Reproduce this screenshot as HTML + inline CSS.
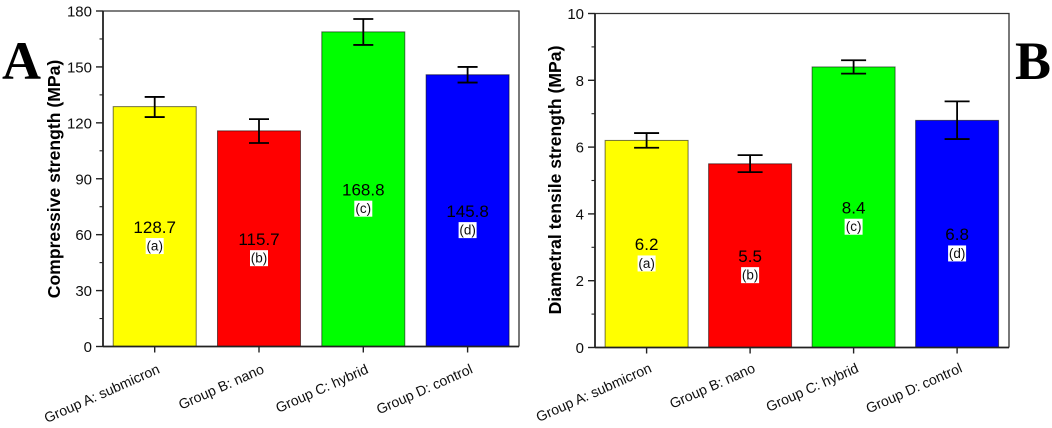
<!DOCTYPE html>
<html lang="en">
<head>
<meta charset="utf-8">
<title>Compressive and diametral tensile strength</title>
<style>
html,body{margin:0;padding:0;background:#fff;width:1052px;height:428px;overflow:hidden}
svg{display:block;font-family:"Liberation Sans",Arial,sans-serif}
</style>
</head>
<body>
<svg id="figure" xmlns="http://www.w3.org/2000/svg" width="1052" height="428" viewBox="0 0 1052 428">
<defs><filter id="soft" x="-2%" y="-2%" width="104%" height="104%"><feGaussianBlur stdDeviation="0.35"/></filter></defs>
<g id="root" filter="url(#soft)"></g>
</svg>
<script>
const groupNames = ["Group A: submicron", "Group B: nano", "Group C: hybrid", "Group D: control"];
const barColors = ["#ffff00", "#ff0000", "#00ff00", "#0000ff"];
const significance = ["(a)", "(b)", "(c)", "(d)"];

const compressiveValues = [128.7, 115.7, 168.8, 145.8];
const compressiveUpper = [133.9, 122.0, 175.7, 150.0];
const compressiveLower = [123.1, 109.2, 161.8, 141.6];
const compressiveTicks = [0, 30, 60, 90, 120, 150, 180];
const compressiveMinorTicks = [15, 45, 75, 105, 135, 165];

const tensileValues = [6.2, 5.5, 8.4, 6.8];
const tensileUpper = [6.42, 5.76, 8.6, 7.37];
const tensileLower = [5.98, 5.25, 8.2, 6.24];
const tensileTicks = [0, 2, 4, 6, 8, 10];
const tensileMinorTicks = [1, 3, 5, 7, 9];

const NS = "http://www.w3.org/2000/svg";
const root = document.getElementById("root");

function make(parent, tag, attrs, text) {
  const el = document.createElementNS(NS, tag);
  for (const key in attrs) el.setAttribute(key, attrs[key]);
  if (text !== undefined) el.textContent = text;
  parent.appendChild(el);
  return el;
}

function drawChart(cfg) {
  const g = make(root, "g", {});
  
  

  const yOf = v => cfg.bottom - (v - cfg.yMin) / (cfg.yMax - cfg.yMin) * (cfg.bottom - cfg.top);
  const xOf = i => cfg.left + cfg.firstOffset + i * cfg.step;

  cfg.values.forEach((v, i) => {
    const bar = make(g, "rect", {
      x: xOf(i) - cfg.barWidth / 2, y: yOf(v),
      width: cfg.barWidth, height: cfg.bottom - yOf(v),
      fill: barColors[i], stroke: "#000", "stroke-opacity": 0.55, "stroke-width": 1
    });
    
    
  });

  const frame = make(g, "path", {
    d: `M${cfg.left} ${cfg.top}H${cfg.right}V${cfg.bottom}`,
    fill: "none", stroke: "#333", "stroke-width": 1.3
  });
  
  

  const yAxis = make(g, "line", {
    x1: cfg.left, x2: cfg.left, y1: cfg.top, y2: cfg.bottom, stroke: "#222", "stroke-width": 1.8
  });
  
  

  const xAxis = make(g, "line", {
    x1: cfg.left, x2: cfg.right, y1: cfg.bottom, y2: cfg.bottom, stroke: "#222", "stroke-width": 1.8
  });
  
  

  cfg.ticks.forEach(t => {
    const tick = make(g, "line", {
      x1: cfg.left - 7, x2: cfg.left, y1: yOf(t), y2: yOf(t), stroke: "#222", "stroke-width": 1.4
    });
    
    
    const label = make(g, "text", {
      x: cfg.left - 11, y: yOf(t) + 5.5, "text-anchor": "end", "font-size": 15, fill: "#111"
    }, String(t));
    
    
  });

  cfg.minorTicks.forEach(t => {
    const tick = make(g, "line", {
      x1: cfg.left - 3.5, x2: cfg.left, y1: yOf(t), y2: yOf(t), stroke: "#222", "stroke-width": 1.1
    });
    
    
  });

  const title = make(g, "text", {
    transform: `translate(${cfg.titleX} ${cfg.titleY}) rotate(-90)`,
    "text-anchor": "middle", "font-size": 17.6, "font-weight": "bold", fill: "#000"
  }, cfg.title);
  
  

  groupNames.forEach((name, i) => {
    const x = xOf(i);
    const tick = make(g, "line", {
      x1: x, x2: x, y1: cfg.bottom, y2: cfg.bottom + 6, stroke: "#222", "stroke-width": 1.4
    });
    
    
    const label = make(g, "text", {
      transform: `translate(${x + 6} ${cfg.bottom + cfg.xLabelDrop}) rotate(-24)`,
      "text-anchor": "end", "font-size": 14.1, fill: "#111"
    }, name);
    
    
  });

  cfg.values.forEach((v, i) => {
    const x = xOf(i);
    const top = yOf(cfg.upper[i]);
    const bottom = yOf(cfg.lower[i]);
    const err = make(g, "path", {
      d: `M${x - cfg.capHalf} ${top}H${x + cfg.capHalf}M${x} ${top}V${bottom}M${x - cfg.capHalf} ${bottom}H${x + cfg.capHalf}`,
      fill: "none", stroke: "#000", "stroke-width": 1.8
    });
    
    

    const mid = yOf(v / 2);
    const valueLabel = make(g, "text", {
      x: x, y: mid + 6.2, "text-anchor": "middle", "font-size": 17, fill: "#000"
    }, v.toFixed(1));
    
    

    const box = make(g, "rect", {
      x: x - 9, y: mid + 11.5, width: 18, height: 16, fill: "#fff"
    });
    
    

    const sig = make(g, "text", {
      x: x, y: mid + 24, "text-anchor": "middle", "font-size": 13.5, fill: "#111"
    }, significance[i]);
    
    
  });

  const panel = make(g, "text", {
    x: cfg.panelX, y: 79, "font-family": '"Liberation Serif",serif',
    "font-weight": "bold", "font-size": 54, fill: "#000"
  }, cfg.panel);
  
  
}

drawChart({
  name: "compressive-strength-chart", panel: "A", panelX: 2,
  left: 103, right: 519, top: 11, bottom: 346.5,
  firstOffset: 51.7, step: 104.3, barWidth: 83, capHalf: 10,
  yMin: 0, yMax: 180, titleX: 60, titleY: 179, xLabelDrop: 26,
  title: "Compressive strength (MPa)",
  values: compressiveValues, upper: compressiveUpper, lower: compressiveLower,
  ticks: compressiveTicks, minorTicks: compressiveMinorTicks
});

drawChart({
  name: "diametral-tensile-strength-chart", panel: "B", panelX: 1015,
  left: 595, right: 1009, top: 13.5, bottom: 347.5,
  firstOffset: 51.6, step: 103.5, barWidth: 83, capHalf: 12.5,
  yMin: 0, yMax: 10, titleX: 561, titleY: 180, xLabelDrop: 24,
  title: "Diametral tensile strength (MPa)",
  values: tensileValues, upper: tensileUpper, lower: tensileLower,
  ticks: tensileTicks, minorTicks: tensileMinorTicks
});
</script>
</body>
</html>
